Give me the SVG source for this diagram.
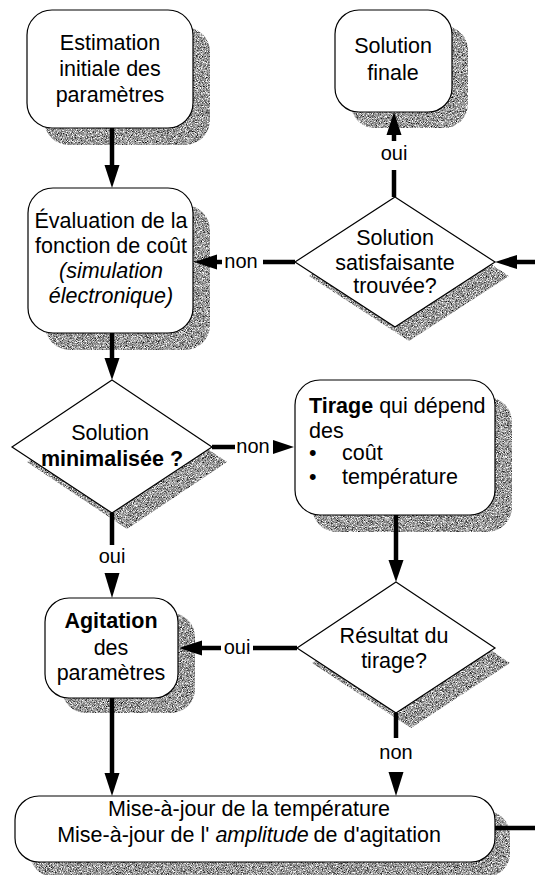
<svg xmlns="http://www.w3.org/2000/svg" width="535" height="875" viewBox="0 0 535 875">
  <style>
    .node { fill: #ffffff; stroke: #000000; stroke-width: 1.2; }
    .shadow { fill: #9a9a9a; filter: url(#grain); }
    .lbl { font-family: "Liberation Sans", Arial, sans-serif; font-size: 21.5px; fill: #000000; text-anchor: middle; }
    .tag { font-family: "Liberation Sans", Arial, sans-serif; font-size: 20px; fill: #000000; text-anchor: middle; }
    .left { text-anchor: start; }
    .b { font-weight: bold; }
    .i { font-style: italic; }
    .wire { stroke: #000000; stroke-width: 4.5; fill: none; }
    .head { fill: #000000; stroke: none; }
  </style>
  <defs>
    <!-- speckled grey used for the drop shadows -->
    <filter id="grain" x="0" y="0" width="100%" height="100%" color-interpolation-filters="sRGB">
      <feTurbulence type="fractalNoise" baseFrequency="1.2" numOctaves="2" seed="4" result="n"/>
      <feColorMatrix in="n" type="matrix" values="0.33 0.33 0.33 0 0  0.33 0.33 0.33 0 0  0.33 0.33 0.33 0 0  0 0 0 0 1" result="g"/>
      <feComponentTransfer in="g" result="c">
        <feFuncR type="linear" slope="2.8" intercept="-0.78"/>
        <feFuncG type="linear" slope="2.8" intercept="-0.78"/>
        <feFuncB type="linear" slope="2.8" intercept="-0.78"/>
      </feComponentTransfer>
      <feComposite in="c" in2="SourceAlpha" operator="in"/>
    </filter>
  </defs>

  <rect width="535" height="875" fill="#ffffff"/>

  <!-- Estimation initiale -->
  <g id="estimation">
    <rect class="shadow" x="44" y="27" width="166" height="118" rx="25"/>
    <rect class="node" x="27" y="10" width="166" height="118" rx="25"/>
    <text class="lbl" x="110" y="50">Estimation</text>
    <text class="lbl" x="110" y="76">initiale des</text>
    <text class="lbl" x="110" y="102">paramètres</text>
  </g>

  <!-- Solution finale -->
  <g id="solution-finale">
    <rect class="shadow" x="351" y="26" width="117" height="102" rx="24"/>
    <rect class="node" x="335" y="10" width="117" height="102" rx="24"/>
    <text class="lbl" x="393" y="53">Solution</text>
    <text class="lbl" x="393" y="80">finale</text>
  </g>

  <!-- Evaluation de la fonction de cout -->
  <g id="evaluation">
    <rect class="shadow" x="45" y="205" width="165" height="145" rx="25"/>
    <rect class="node" x="28" y="188" width="165" height="145" rx="25"/>
    <text class="lbl" x="111" y="228">Évaluation de la</text>
    <text class="lbl" x="111" y="253">fonction de coût</text>
    <text class="lbl i" x="111" y="278">(simulation</text>
    <text class="lbl i" x="111" y="303">électronique)</text>
  </g>

  <!-- Solution satisfaisante trouvee? -->
  <g id="satisfaisante">
    <polygon class="shadow" points="409,211 509,276 409,341 309,276"/>
    <polygon class="node" points="395,197 495,262 395,327 295,262"/>
    <text class="lbl" x="395" y="245">Solution</text>
    <text class="lbl" x="395" y="270">satisfaisante</text>
    <text class="lbl" x="395" y="293">trouvée?</text>
  </g>

  <!-- Solution minimalisee ? -->
  <g id="minimalisee">
    <polygon class="shadow" points="127,395 227,462 127,529 27,462"/>
    <polygon class="node" points="112,380 212,447 112,513 12,447"/>
    <text class="lbl" x="110" y="440">Solution</text>
    <text class="lbl b" x="112" y="466">minimalisée ?</text>
  </g>

  <!-- Tirage -->
  <g id="tirage">
    <rect class="shadow" x="312" y="397" width="200" height="135" rx="25"/>
    <rect class="node" x="295" y="380" width="200" height="135" rx="25"/>
    <text class="lbl left" x="309" y="413"><tspan class="b">Tirage</tspan><tspan dx="6">qui dépend</tspan></text>
    <text class="lbl left" x="309" y="438">des</text>
    <text class="lbl left" x="309" y="460">•</text>
    <text class="lbl left" x="342" y="460">coût</text>
    <text class="lbl left" x="309" y="484">•</text>
    <text class="lbl left" x="342" y="484">température</text>
  </g>

  <!-- Resultat du tirage? -->
  <g id="resultat">
    <polygon class="shadow" points="411,597 510,663 411,728 312,663"/>
    <polygon class="node" points="396,582 495,648 396,713 297,648"/>
    <text class="lbl" x="394" y="643">Résultat du</text>
    <text class="lbl" x="394" y="668">tirage?</text>
  </g>

  <!-- Agitation des parametres -->
  <g id="agitation">
    <rect class="shadow" x="62" y="613" width="133" height="100" rx="24"/>
    <rect class="node" x="45" y="598" width="133" height="100" rx="24"/>
    <text class="lbl b" x="111" y="628">Agitation</text>
    <text class="lbl" x="111" y="655">des</text>
    <text class="lbl" x="111" y="680">paramètres</text>
  </g>

  <!-- Mise-a-jour -->
  <g id="mise-a-jour">
    <rect class="shadow" x="30" y="811" width="480" height="66" rx="24"/>
    <rect class="node" x="15" y="796" width="480" height="66" rx="24"/>
    <text class="lbl" x="249" y="816">Mise-à-jour de la température</text>
    <text class="lbl" x="249" y="842">Mise-à-jour de l' <tspan class="i">amplitude</tspan><tspan dx="5">de d'agitation</tspan></text>
  </g>

  <!-- connectors -->
  <g id="connectors">
    <!-- estimation -> evaluation -->
    <line class="wire" x1="112" y1="128" x2="112" y2="167"/>
    <polygon class="head" points="104.5,165 119.5,165 112,188"/>

    <!-- satisfaisante -> solution finale (oui) -->
    <line class="wire" x1="394" y1="197" x2="394" y2="170"/>
    <text class="tag" x="394" y="160">oui</text>
    <line class="wire" x1="394" y1="141" x2="394" y2="133"/>
    <polygon class="head" points="386.5,135 401.5,135 394,112"/>

    <!-- satisfaisante -> evaluation (non) -->
    <line class="wire" x1="295" y1="262" x2="263" y2="262"/>
    <text class="tag" x="241" y="268">non</text>
    <line class="wire" x1="222" y1="262" x2="215" y2="262"/>
    <polygon class="head" points="217,254.5 217,269.5 194,262"/>

    <!-- loop return into satisfaisante -->
    <line class="wire" x1="535" y1="262" x2="515" y2="262"/>
    <polygon class="head" points="517,255 517,269 495,262"/>

    <!-- evaluation -> minimalisee -->
    <line class="wire" x1="112" y1="333" x2="112" y2="360"/>
    <polygon class="head" points="104.5,358 119.5,358 112,380"/>

    <!-- minimalisee -> tirage (non) -->
    <line class="wire" x1="212" y1="447" x2="235" y2="447"/>
    <text class="tag" x="253" y="453">non</text>
    <polygon class="head" points="273,440 273,454 294,447"/>

    <!-- minimalisee -> agitation (oui) -->
    <line class="wire" x1="112" y1="513" x2="112" y2="545"/>
    <text class="tag" x="112" y="563">oui</text>
    <polygon class="head" points="104.5,573 119.5,573 112,598"/>

    <!-- tirage -> resultat -->
    <line class="wire" x1="396" y1="515" x2="396" y2="562"/>
    <polygon class="head" points="388.5,560 403.5,560 396,582"/>

    <!-- resultat -> agitation (oui) -->
    <line class="wire" x1="297" y1="648" x2="253" y2="648"/>
    <text class="tag" x="237" y="654">oui</text>
    <line class="wire" x1="221" y1="648" x2="200" y2="648"/>
    <polygon class="head" points="202,640.5 202,655.5 179,648"/>

    <!-- agitation -> mise-a-jour -->
    <line class="wire" x1="112" y1="698" x2="112" y2="775"/>
    <polygon class="head" points="104.5,773 119.5,773 112,796"/>

    <!-- resultat -> mise-a-jour (non) -->
    <line class="wire" x1="396" y1="713" x2="396" y2="738"/>
    <text class="tag" x="396" y="759">non</text>
    <polygon class="head" points="388.5,772 403.5,772 396,796"/>

    <!-- mise-a-jour -> loop return -->
    <line class="wire" x1="495" y1="828" x2="535" y2="828"/>
  </g>
</svg>
